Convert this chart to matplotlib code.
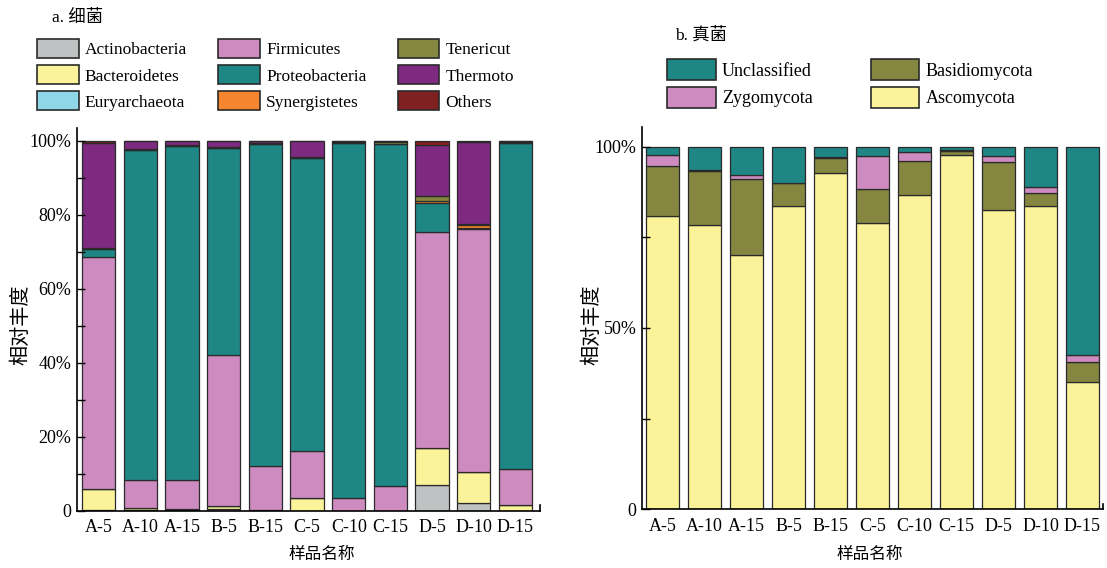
import numpy as np
import matplotlib.pyplot as plt
from matplotlib.patches import Patch

plt.rcParams['font.family'] = ['Liberation Serif', 'Noto Sans CJK SC']

samples = ['A-5', 'A-10', 'A-15', 'B-5', 'B-15', 'C-5', 'C-10', 'C-15', 'D-5', 'D-10', 'D-15']

# bacteria phyla, relative abundance (%)
actino = [0.3, 0.2, 0.2, 0.4, 0.2, 0.0, 0.0, 0.0, 6.9, 2.1, 0.1]
bactero = [5.5, 0.7, 0.3, 1.0, 0.1, 3.6, 0.1, 0.1, 10.1, 8.5, 1.5]
eury = [0.0, 0.0, 0.0, 0.0, 0.0, 0.0, 0.0, 0.0, 0.0, 0.0, 0.0]
firm = [62.9, 7.4, 7.8, 40.6, 11.9, 12.5, 3.3, 6.6, 58.2, 65.6, 9.8]
proteo = [1.9, 89.2, 90.3, 55.9, 86.9, 79.2, 95.9, 92.4, 8.0, 0.2, 87.9]
syner = [0.0, 0.0, 0.0, 0.0, 0.0, 0.0, 0.0, 0.0, 0.4, 0.8, 0.0]
tener = [0.3, 0.3, 0.3, 0.3, 0.2, 0.2, 0.2, 0.5, 1.5, 0.2, 0.2]
thermo = [28.5, 2.2, 1.1, 1.8, 0.7, 4.5, 0.5, 0.4, 13.8, 22.1, 0.5]
others = [0.6, 0.0, 0.0, 0.0, 0.0, 0.0, 0.0, 0.0, 1.1, 0.5, 0.0]

# fungi phyla, relative abundance (%)
asco = [81.0, 78.4, 70.0, 83.7, 92.8, 79.0, 86.6, 97.7, 82.6, 83.7, 35.0]
basid = [13.7, 14.8, 21.0, 6.4, 4.0, 9.2, 9.4, 1.2, 13.3, 3.4, 5.5]
zygo = [3.0, 0.3, 1.1, 0.0, 0.4, 9.1, 2.4, 0.2, 1.5, 1.7, 2.1]
uncl = [2.3, 6.5, 7.9, 9.9, 2.8, 2.7, 1.6, 0.9, 2.6, 11.2, 57.4]

bact_names = ['Actinobacteria', 'Bacteroidetes', 'Euryarchaeota', 'Firmicutes', 'Proteobacteria',
              'Synergistetes', 'Tenericut', 'Thermoto', 'Others']
bact_colors = ['#BFC1C3', '#FBF39A', '#8FD6E8', '#CD8BBF', '#1F8686',
               '#F5852F', '#858640', '#7E2A80', '#7F2021']
fungi_names = ['Ascomycota', 'Basidiomycota', 'Zygomycota', 'Unclassified']
fungi_colors = ['#FBF29A', '#858640', '#CD8BBF', '#1F8686']

EDGE = '#2a2a2a'


def stack(ax, series, colors):
    x = np.arange(len(samples))
    bottom = np.zeros(len(samples))
    for vals, col in zip(series, colors):
        vals = np.array(vals)
        ax.bar(x, vals, width=0.8, bottom=bottom, color=col, edgecolor=EDGE, linewidth=0.9)
        bottom += vals
    ax.set_xticks(x)
    ax.set_xticklabels(samples, fontsize=13)
    ax.tick_params(axis='x', length=0, pad=6)
    ax.tick_params(axis='y', which='both', direction='in', length=5.5, width=1, labelsize=13, pad=4)
    for s in ['top', 'right']:
        ax.spines[s].set_visible(False)
    for s in ['left', 'bottom']:
        ax.spines[s].set_linewidth(1.2)
    # little end tick on the x axis
    ax.plot([1, 1], [0, 0.015], transform=ax.transAxes, color='black', lw=1.2, clip_on=False)


fig = plt.figure(figsize=(11.07, 5.68), dpi=100)

ax1 = fig.add_axes([0.0696, 0.1004, 0.4182, 0.6743])
stack(ax1, [actino, bactero, eury, firm, proteo, syner, tener, thermo, others], bact_colors)
ax1.set_xlim(-0.52, 10.59)
ax1.set_ylim(0, 103.4)
ax1.set_yticks([0, 20, 40, 60, 80, 100])
ax1.set_yticklabels(['0', '20%', '40%', '60%', '80%', '100%'])
ax1.set_yticks([10, 30, 50, 70, 90], minor=True)

ax2 = fig.add_axes([0.58, 0.1033, 0.4164, 0.673])
stack(ax2, [asco, basid, zygo, uncl], fungi_colors)
ax2.set_xlim(-0.49, 10.49)
ax2.set_ylim(0, 105.4)
ax2.set_yticks([0, 50, 100])
ax2.set_yticklabels(['0', '50%', '100%'])
ax2.set_yticks([25, 75], minor=True)

# panel titles and axis labels
fig.text(52 / 1107, 1 - 18 / 568, 'a. 细菌', fontsize=12.5, va='center', ha='left')
fig.text(675 / 1107, 1 - 35 / 568, 'b. 真菌', fontsize=12.5, va='center', ha='left')
for xc in [322, 870]:
    fig.text(xc / 1107, 1 - 555 / 568, '样品名称', fontsize=12, ha='center', va='center')
for xc in [22, 593]:
    fig.text(xc / 1107, 1 - 325 / 568, '相对丰度', fontsize=14.5, ha='center', va='center', rotation=90)

# legends
h1 = [Patch(facecolor=c, edgecolor=EDGE, linewidth=1.2, label=n) for n, c in zip(bact_names, bact_colors)]
fig.legend(handles=h1, ncol=3, loc='upper left', bbox_to_anchor=(37 / 1107, 1 - 39 / 568),
           frameon=False, fontsize=12.5, handlelength=2.4, handleheight=1.3,
           handletextpad=0.35, labelspacing=0.4, columnspacing=1.8, borderpad=0, borderaxespad=0)

h2 = [Patch(facecolor=fungi_colors[i], edgecolor=EDGE, linewidth=1.2, label=fungi_names[i]) for i in [3, 2, 1, 0]]
fig.legend(handles=h2, ncol=2, loc='upper left', bbox_to_anchor=(667 / 1107, 1 - 59 / 568),
           frameon=False, fontsize=13, handlelength=2.7, handleheight=1.45,
           handletextpad=0.35, labelspacing=0.35, columnspacing=3.2, borderpad=0, borderaxespad=0)

fig.savefig('out.png', dpi=100)
